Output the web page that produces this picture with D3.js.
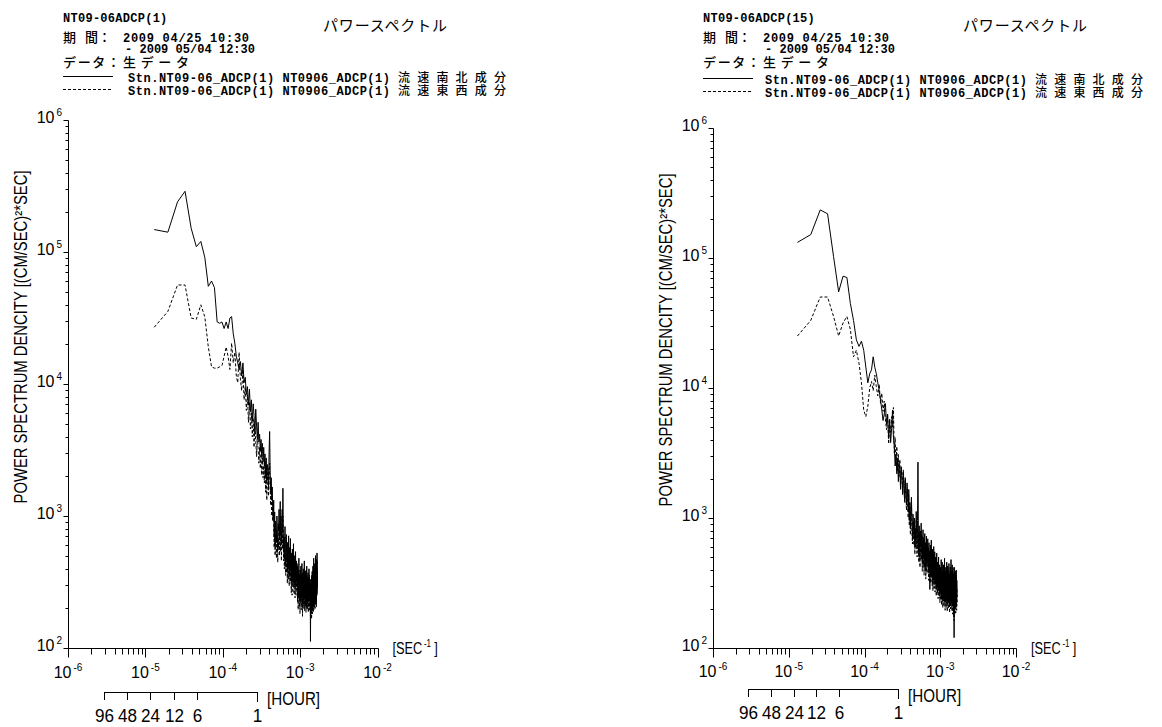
<!DOCTYPE html>
<html>
<head>
<meta charset="utf-8">
<script src="https://cdn.jsdelivr.net/npm/d3@7"></script>
<style>
  body { margin: 0; background: #fff; }
  text { fill: #000; }
  .lbl { font-family: "Liberation Sans", Arial, sans-serif; }
  .hdr { font-family: "Liberation Mono", "DejaVu Sans Mono", monospace; font-weight: bold; font-size: 12px; }
  .jp { font-family: "Noto Sans CJK JP", sans-serif; font-weight: 500; font-size: 13px; }
</style>
</head>
<body>
<svg id="chart" width="1162" height="727"></svg>
<script>
// spectral estimate: 512-point segments of 5-minute data, bins k = 2..256
var segLen = 512, dtSec = 300;
var freqBins = d3.range(2, 257).map(function(k) { return k / (segLen * dtSec); });

// log10(power) * 100, one value per bin
var nsLeft = [517,515,538,546,518,504,508,496,474,478,473,447,446,447,442,447,442,450,451,438,431,421,416,411,417,406,416,401,
  405,392,398,384,396,379,388,372,385,376,362,381,368,359,371,
  356,362,349,358,345,355,341,
  352,338,347,330,344,326,339,335,321,348,364,333,318,329,312,322,305,298,
  312,284,303,277,296,291,280,300,286,274,294,
  289,305,282,297,311,286,300,279,292,305,288,321,
  290,275,284,268,281,292,270,263,279,286,266,274,258,280,271,262,285,268,255,276,263,270,283,259,266,251,272,264,248,275,260,268,254,279,262,249,270,257,265,246,262,273,255,248,266,258,252,264,
  255,244,262,250,238,258,247,268,252,240,256,245,236,259,249,243,262,251,238,254,246,264,241,250,235,257,248,242,260,245,239,253,247,266,244,237,255,249,240,258,243,251,236,259,246,240,262,248,238,254,245,250,239,257,243,236,253,248,241,260,244,238,255,247,240,252,237,
  230,205,228,246,238,252,236,244,226,255,240,232,258,245,229,250,237,262,243,231,254,240,268,246,233,257,242,260,236,249,264,244,234,256,247,270,241,253,238,261,248,235,258,267,244,252,272,246,259];

var ewLeft = [443,455,475,475,450,449,460,451,428,413,412,412,413,414,421,428,421,411,431,416,424,406,401,424,403,395,411,388,
  398,380,392,371,386,366,378,360,374,352,368,357,345,362,350,
  340,352,336,347,331,344,329,
  338,325,341,318,333,312,328,336,315,330,340,322,308,319,300,313,296,305,
  298,276,290,270,286,279,268,289,275,265,282,
  276,292,270,284,296,273,287,266,280,291,275,300,
  282,266,276,260,273,284,261,255,270,278,257,266,249,272,262,252,276,259,247,268,254,262,274,250,258,242,264,255,240,266,251,259,246,270,253,241,261,248,256,238,253,264,246,240,257,249,244,255,
  246,235,253,241,229,249,238,259,243,231,247,236,226,250,240,234,253,242,229,245,237,255,232,241,224,248,239,233,251,236,230,244,238,257,235,228,246,240,231,249,234,242,227,250,237,231,253,239,229,245,236,241,230,248,234,227,244,239,232,251,235,229,246,238,231,243,228,
  238,224,245,252,236,248,230,241,222,250,235,228,254,240,226,246,233,258,239,227,249,236,263,241,229,252,238,256,231,244,259,240,230,251,243,265,237,248,233,256,243,231,253,262,239,247,266,241,254];

var nsRight = [512,518,537,534,501,474,486,485,465,452,437,432,436,429,416,404,411,414,424,416,411,404,398,391,383,375,380,388,
  372,380,361,376,358,369,383,362,
  355,340,349,334,346,328,342,337,322,339,330,318,335,326,314,331,320,310,327,
  318,305,322,298,312,292,308,316,296,284,303,
  296,285,300,278,292,283,305,289,276,298,343,287,272,294,281,268,290,279,296,274,286,265,282,291,270,284,262,279,288,268,281,259,276,286,264,278,
  272,284,263,277,258,281,268,274,245,266,279,256,270,283,261,272,254,276,265,250,271,260,278,252,267,258,274,249,263,270,255,268,246,262,273,253,260,248,266,257,244,262,270,251,259,246,264,253,241,258,
  250,262,243,256,268,247,239,258,251,266,244,255,237,260,249,242,264,252,238,257,246,269,241,254,235,259,248,243,262,250,237,256,245,266,240,252,234,258,247,263,242,251,236,260,249,244,265,238,255,246,
  233,257,250,241,262,248,236,254,245,268,239,252,243,259,235,256,247,264,240,251,232,258,246,262,238,253,244,229,257,248,208,250,237,262,243,232,255,246,236,259,241,250,233,256,245,238,260,242,248,235,252,244,239];

var ewRight = [440,452,470,470,455,440,450,455,445,424,429,419,404,383,378,386,400,405,398,410,401,394,403,388,396,382,390,376,
  368,379,357,372,366,378,370,385,
  350,362,341,355,336,349,332,345,327,340,334,319,337,323,312,329,316,306,322,
  313,300,318,294,308,287,303,311,290,280,298,
  290,279,295,272,286,277,299,283,270,292,284,281,266,289,275,262,285,273,290,268,280,259,276,285,264,278,256,273,282,262,275,253,270,280,258,272,
  266,278,257,271,252,275,262,268,250,260,273,250,264,277,255,266,248,270,259,244,265,254,272,246,261,252,268,243,257,264,249,262,240,256,267,247,254,242,260,251,238,256,264,245,253,240,258,247,235,252,
  244,256,237,250,262,241,233,252,245,260,238,249,231,254,243,236,258,246,232,251,240,263,235,248,229,253,242,237,256,244,231,250,239,260,234,246,228,252,241,257,236,245,230,254,243,238,259,232,249,240,
  227,251,244,235,256,242,230,248,239,262,233,246,237,253,229,250,241,258,234,245,226,252,240,256,232,247,238,224,251,242,221,244,231,256,237,226,249,240,230,253,235,244,227,250,239,232,254,236,242,229,246,238,233];

var hourTicks = [96, 48, 24, 12, 6, 1];
var freqDecades = [-6, -5, -4, -3, -2];
var powerDecades = [2, 3, 4, 5, 6];
var legendNames = ["Stn.NT09-06_ADCP(1) NT0906_ADCP(1) ", "流速南北成分", "流速東西成分"];

[nsLeft, ewLeft, nsRight, ewRight].forEach(function(a, i) {
  if (a.length !== freqBins.length) console.error("series " + i + " has " + a.length + " values");
});

var panels = [
  { hx: 63, title: "NT09-06ADCP(1)", ns: nsLeft, ew: ewLeft,
    x0: 68, x1: 377.5, yTop: 120, yBot: 648, xLabY: 678, hourY: 692,
    legX: 128, legDy: 0, dateX: 123, yTitleX: 27, yTitleY: 337 },
  { hx: 703, title: "NT09-06ADCP(15)", ns: nsRight, ew: ewRight,
    x0: 713, x1: 1016, yTop: 128, yBot: 648, xLabY: 677, hourY: 689,
    legX: 765, legDy: 2, dateX: 763, yTitleX: 672, yTitleY: 340 }
];

var svg = d3.select("#chart");

function superText(g, x, y, base, exp, anchor, size, expSize) {
  var t = g.append("text").attr("class", "lbl")
    .attr("x", x).attr("y", y)
    .attr("text-anchor", anchor)
    .style("font-size", size + "px");
  t.append("tspan").text(base);
  t.append("tspan").attr("dx", 2).attr("dy", -7).style("font-size", expSize + "px").text(exp);
  return t;
}

// crisp 1px position
function px(v) { return Math.round(v) + 0.5; }

panels.forEach(function(p) {
  var g = svg.append("g");

  var x = d3.scaleLog().domain([1e-6, 1e-2]).range([p.x0, p.x1]);
  var y = d3.scaleLog().domain([1e2, 1e6]).range([p.yBot, p.yTop]);

  // tick values: majors at decades, minors 2..9 inside each decade
  var xTicks = [], yTicks = [];
  freqDecades.forEach(function(e, i) {
    xTicks.push({ v: Math.pow(10, e), len: 9 });
    if (i < freqDecades.length - 1)
      for (var m = 2; m <= 9; m++) xTicks.push({ v: m * Math.pow(10, e), len: 6 });
  });
  powerDecades.forEach(function(e, i) {
    yTicks.push({ v: Math.pow(10, e), len: 5 });
    if (i < powerDecades.length - 1)
      for (var m = 2; m <= 9; m++) yTicks.push({ v: m * Math.pow(10, e), len: 3 });
  });

  var ax = g.append("g").attr("stroke", "#000").attr("stroke-width", 1).attr("fill", "none");
  ax.append("line").attr("x1", px(p.x0)).attr("x2", px(p.x1)).attr("y1", px(p.yBot)).attr("y2", px(p.yBot));
  ax.append("line").attr("x1", px(p.x0)).attr("x2", px(p.x0)).attr("y1", px(p.yTop)).attr("y2", px(p.yBot));
  ax.selectAll(".xt").data(xTicks).enter().append("line")
    .attr("x1", function(d) { return px(x(d.v)); })
    .attr("x2", function(d) { return px(x(d.v)); })
    .attr("y1", px(p.yBot))
    .attr("y2", function(d) { return px(p.yBot) + d.len; });
  ax.selectAll(".yt").data(yTicks).enter().append("line")
    .attr("y1", function(d) { return px(y(d.v)); })
    .attr("y2", function(d) { return px(y(d.v)); })
    .attr("x1", px(p.x0))
    .attr("x2", function(d) { return px(p.x0) - d.len; });

  freqDecades.forEach(function(e) {
    superText(g, x(Math.pow(10, e)), p.xLabY, "10", String(e), "middle", 16, 10);
  });
  powerDecades.forEach(function(e) {
    superText(g, p.x0 - 6, y(Math.pow(10, e)) + 3, "10", String(e), "end", 16, 10);
  });

  // [SEC-1 ]  (one narrowed text run)
  var sx = x(1e-2) + 15, sy = p.yBot + 6;
  var st = g.append("text").attr("class", "lbl")
    .attr("transform", "translate(" + sx + "," + sy + ") scale(0.8,1)")
    .style("font-size", "16px");
  st.append("tspan").text("[SEC");
  st.append("tspan").attr("dx", 2).attr("dy", -7).style("font-size", "10px").text("-1");
  st.append("tspan").attr("dx", 4).attr("dy", 7).text("]");

  // hour scale
  var hx = function(h) { return x(1 / (h * 3600)); };
  g.append("line").attr("x1", px(hx(96))).attr("x2", px(hx(1)))
    .attr("y1", px(p.hourY)).attr("y2", px(p.hourY)).attr("stroke", "#000");
  hourTicks.forEach(function(h) {
    var tx = px(hx(h));
    g.append("line").attr("x1", tx).attr("x2", tx)
      .attr("y1", p.hourY).attr("y2", p.hourY + (h === 1 ? 10 : 8)).attr("stroke", "#000");
    g.append("text").attr("class", "lbl").attr("x", tx).attr("y", p.hourY + 30)
      .attr("text-anchor", "middle").style("font-size", "19px")
      .attr("transform", "translate(" + tx + ",0) scale(0.9,1) translate(" + (-tx) + ",0)")
      .text(h);
  });
  g.append("text").attr("class", "lbl").attr("x", hx(1) + 10).attr("y", p.hourY + 13)
    .style("font-size", "18px").attr("textLength", 53).attr("lengthAdjust", "spacingAndGlyphs").text("[HOUR]");

  // y axis title
  g.append("text").attr("class", "lbl")
    .attr("transform", "translate(" + p.yTitleX + "," + p.yTitleY + ") rotate(-90)")
    .attr("text-anchor", "middle").style("font-size", "18px")
    .attr("textLength", 333).attr("lengthAdjust", "spacingAndGlyphs")
    .text("POWER SPECTRUM DENCITY [(CM/SEC)²*SEC]");

  // spectra
  var line = d3.line()
    .x(function(d, i) { return x(freqBins[i]); })
    .y(function(d) { return y(Math.pow(10, d / 100)); });
  g.append("path").datum(p.ew).attr("d", line)
    .attr("fill", "none").attr("stroke", "#000").attr("stroke-width", 1).attr("stroke-dasharray", "3,2");
  g.append("path").datum(p.ns).attr("d", line)
    .attr("fill", "none").attr("stroke", "#000").attr("stroke-width", 1);

  // header block
  g.append("text").attr("class", "hdr").attr("x", p.hx).attr("y", 22)
    .attr("textLength", p.title.length * 7.45).attr("lengthAdjust", "spacing").text(p.title);
  g.append("text").attr("class", "jp").attr("x", p.hx + 260).attr("y", 31)
    .style("font-weight", 400).style("font-size", "15px")
    .attr("textLength", 124).attr("lengthAdjust", "spacing").text("パワースペクトル");
  g.append("text").attr("class", "jp").attr("x", p.hx).attr("y", 42).text("期");
  g.append("text").attr("class", "jp").attr("x", p.hx + 22).attr("y", 42).text("間：");
  g.append("text").attr("class", "hdr").attr("x", p.dateX).attr("y", 42)
    .attr("textLength", 126).attr("lengthAdjust", "spacing").text("2009 04/25 10:30");
  g.append("text").attr("class", "hdr").attr("x", p.dateX + 2).attr("y", 53)
    .attr("textLength", 130).attr("lengthAdjust", "spacing").text("- 2009 05/04 12:30");
  g.append("text").attr("class", "jp").attr("x", p.hx).attr("y", 67)
    .attr("textLength", 57).attr("lengthAdjust", "spacing").text("データ：");
  g.append("text").attr("class", "jp").attr("x", p.dateX).attr("y", 67)
    .attr("textLength", 66).attr("lengthAdjust", "spacing").text("生データ");

  // legend
  [0, 1].forEach(function(i) {
    var ly = 76 + p.legDy + i * 13;
    g.append("line").attr("x1", p.hx).attr("x2", p.hx + 50)
      .attr("y1", ly + 0.5).attr("y2", ly + 0.5).attr("stroke", "#000")
      .attr("stroke-dasharray", i ? "3,2" : null);
    g.append("text").attr("class", "hdr").attr("x", p.legX).attr("y", ly + 6)
      .attr("textLength", 262).attr("lengthAdjust", "spacing").text(legendNames[0]);
    g.append("text").attr("class", "jp").attr("x", p.legX + 270).attr("y", ly + 6)
      .style("font-size", "12px")
      .attr("textLength", 108).attr("lengthAdjust", "spacing").text(legendNames[1 + i]);
  });
});
</script>
</body>
</html>
